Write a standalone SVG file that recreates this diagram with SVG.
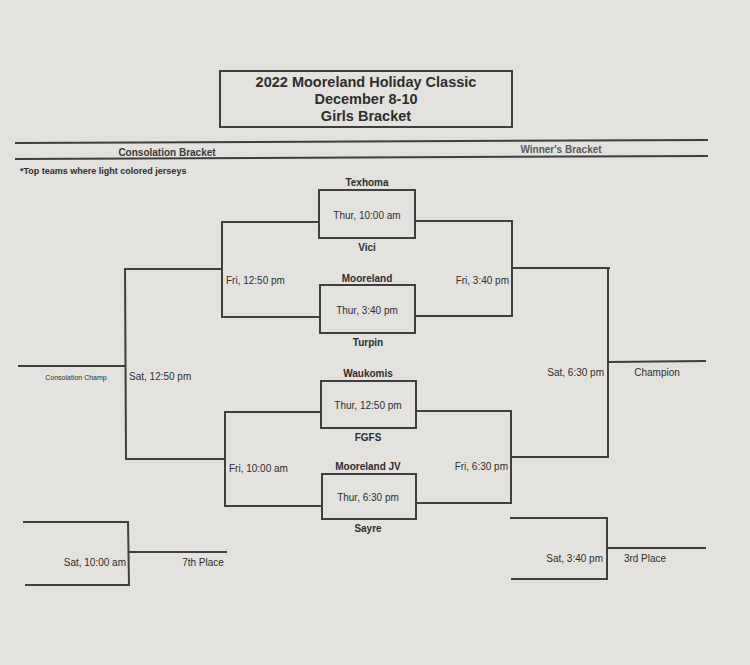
<svg xmlns="http://www.w3.org/2000/svg" width="750" height="665" viewBox="0 0 750 665">
<style>
.bg{fill:#e3e2de}
.ln{stroke:#3f3f3f;stroke-width:2;fill:none}
.box{stroke:#3f3f3f;stroke-width:2;fill:#e3e2de}
.t{font-family:"Liberation Sans",Arial,sans-serif;fill:#2e2e2e}
.title{font-size:14.5px;font-weight:bold;text-anchor:middle}
.team{font-size:10px;font-weight:bold;text-anchor:middle}
.time{font-size:10px}
.mid{text-anchor:middle}
.end{text-anchor:end}
.hdr{font-size:10px;font-weight:bold;text-anchor:middle;fill:#3a3a3a}
</style>
<rect class="bg" x="0" y="0" width="750" height="665"/>
<g id="title">
<rect class="box" x="220" y="71" width="292" height="56"/>
<text class="t title" x="366" y="87">2022 Mooreland Holiday Classic</text>
<text class="t title" x="366" y="104">December 8-10</text>
<text class="t title" x="366" y="121">Girls Bracket</text>
</g>
<g id="header">
<line class="ln" x1="15" y1="143" x2="708" y2="140"/>
<line class="ln" x1="15" y1="159" x2="708" y2="156"/>
<text class="t hdr" x="167" y="156">Consolation Bracket</text>
<text class="t hdr" x="561" y="153" style="fill:#5a5a5a">Winner's Bracket</text>
<text class="t" x="20" y="174" style="font-size:9px;font-weight:bold">*Top teams where light colored jerseys</text>
</g>
<g id="connectors">
<polyline class="ln" points="319,222 222,222 222,317 320,317"/>
<line class="ln" x1="124" y1="269" x2="222" y2="269"/>
<polyline class="ln" points="415,221 512,221 512,316 415,316"/>
<line class="ln" x1="512" y1="268" x2="610" y2="268"/>
<polyline class="ln" points="321,412 225,412 225,506 322,506"/>
<line class="ln" x1="126" y1="459" x2="225" y2="459"/>
<polyline class="ln" points="416,411 511,411 511,503 416,503"/>
<line class="ln" x1="511" y1="457" x2="609" y2="457"/>
<line class="ln" x1="18" y1="366" x2="125" y2="366"/>
<line class="ln" x1="125" y1="268" x2="126" y2="460"/>
<line class="ln" x1="608" y1="267" x2="608" y2="458"/>
<line class="ln" x1="608" y1="362" x2="706" y2="361"/>
<polyline class="ln" points="23,522 128,522 129,585 25,585"/>
<line class="ln" x1="129" y1="552" x2="227" y2="552"/>
<polyline class="ln" points="510,518 607,518 607,579 511,579"/>
<line class="ln" x1="607" y1="548" x2="706" y2="548"/>
</g>
<g id="game1">
<rect class="box" x="319" y="190" width="96" height="48"/>
<text class="t team" x="367" y="186">Texhoma</text>
<text class="t time mid" x="367" y="219">Thur, 10:00 am</text>
<text class="t team" x="367" y="251">Vici</text>
</g>
<g id="game2">
<rect class="box" x="320" y="285" width="95" height="48"/>
<text class="t team" x="367" y="282">Mooreland</text>
<text class="t time mid" x="367" y="314">Thur, 3:40 pm</text>
<text class="t team" x="368" y="346">Turpin</text>
</g>
<g id="game3">
<rect class="box" x="321" y="381" width="95" height="47"/>
<text class="t team" x="368" y="377">Waukomis</text>
<text class="t time mid" x="368" y="409">Thur, 12:50 pm</text>
<text class="t team" x="368" y="441">FGFS</text>
</g>
<g id="game4">
<rect class="box" x="322" y="474" width="94" height="45"/>
<text class="t team" x="368" y="470">Mooreland JV</text>
<text class="t time mid" x="368" y="501">Thur, 6:30 pm</text>
<text class="t team" x="368" y="532">Sayre</text>
</g>
<g id="fri1250">
<text class="t time" x="226" y="284">Fri, 12:50 pm</text>
</g>
<g id="fri340">
<text class="t time end" x="509" y="284">Fri, 3:40 pm</text>
</g>
<g id="fri1000">
<text class="t time" x="229" y="472">Fri, 10:00 am</text>
</g>
<g id="fri630">
<text class="t time end" x="508" y="470">Fri, 6:30 pm</text>
</g>
<g id="sat1250">
<text class="t time" x="129" y="380">Sat, 12:50 pm</text>
</g>
<g id="consolation-champ">
<text class="t mid" x="76" y="380" style="font-size:7px">Consolation Champ</text>
</g>
<g id="sat630">
<text class="t time end" x="604" y="376">Sat, 6:30 pm</text>
</g>
<g id="champion">
<text class="t time mid" x="657" y="376">Champion</text>
</g>
<g id="sat1000">
<text class="t time end" x="126" y="566">Sat, 10:00 am</text>
</g>
<g id="seventh">
<text class="t time mid" x="203" y="566">7th Place</text>
</g>
<g id="sat340">
<text class="t time end" x="603" y="562">Sat, 3:40 pm</text>
</g>
<g id="third">
<text class="t time mid" x="645" y="562">3rd Place</text>
</g>
</svg>
